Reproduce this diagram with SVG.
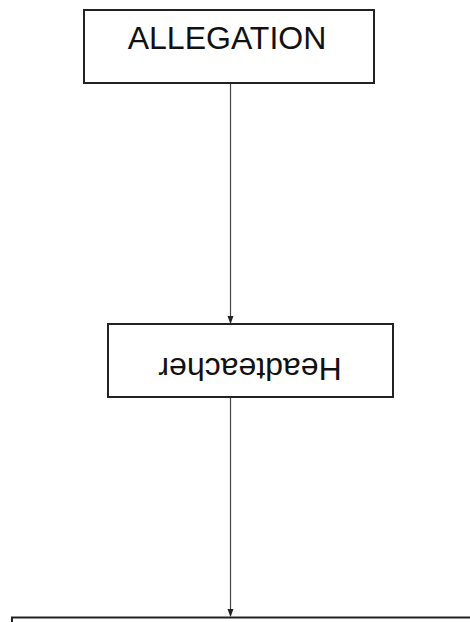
<svg xmlns="http://www.w3.org/2000/svg" width="470" height="622" viewBox="0 0 470 622">
<style>
.box{fill:#fff;stroke:#222;stroke-width:2}
.lbl{font-family:"Liberation Sans",Arial,sans-serif;font-size:32px;fill:#111;text-anchor:middle}
.edge{stroke:#444;stroke-width:1.2;fill:none}
</style>
<defs>
<marker id="arr" markerUnits="userSpaceOnUse" markerWidth="8" markerHeight="12" refX="7" refY="3" orient="auto" viewBox="0 0 8 6">
<path d="M0,0 L8,3 L0,6 Z" fill="#222"/>
</marker>
</defs>
<rect width="470" height="622" fill="#fff"/>
<g id="connectors">
<line class="edge" x1="230.5" y1="83" x2="230.5" y2="323" marker-end="url(#arr)"/>
<line class="edge" x1="230.5" y1="398" x2="230.5" y2="616" marker-end="url(#arr)"/>
</g>
<g id="allegation">
<rect class="box" x="84" y="10" width="290" height="73"/>
<text class="lbl" x="227" y="49">ALLEGATION</text>
</g>
<g id="headteacher">
<rect class="box" x="108" y="324" width="285" height="73"/>
<text class="lbl" x="250" y="381" transform="rotate(180 250 369.5)">Headteacher</text>
</g>
<g id="bottom">
<rect class="box" x="12" y="617.5" width="470" height="20"/>
</g>
</svg>
